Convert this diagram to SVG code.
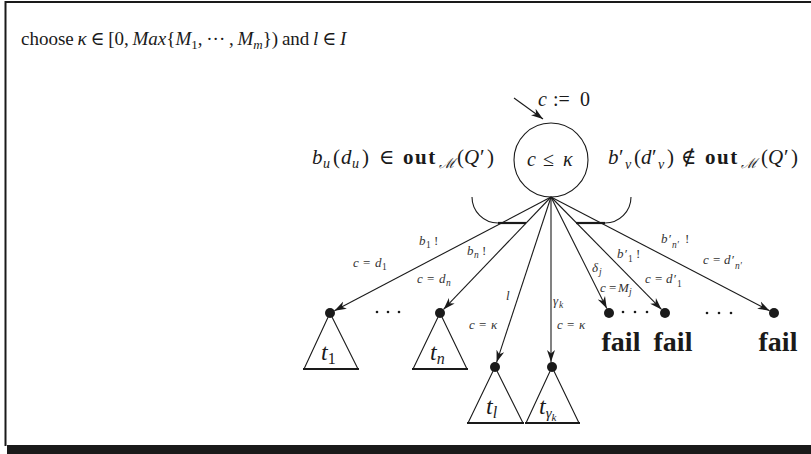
<svg xmlns="http://www.w3.org/2000/svg" width="811" height="454" viewBox="0 0 811 454">
<style>
text{font-family:"Liberation Serif","DejaVu Serif",serif;fill:#1a1a1a}
.i{font-style:italic}
.b{font-weight:bold}
.title{font-size:19px;word-spacing:-1px}
.side{font-size:21px}
.sub{font-size:14px;font-style:italic}
.el{font-size:13px;font-style:italic;fill:#333}
.es{font-size:9.5px}
.tri{font-size:24px;font-style:italic}
.fail{font-size:28px;font-weight:bold}
.edge{stroke:#1a1a1a;stroke-width:1.1;fill:none}
.tr{stroke:#1a1a1a;stroke-width:1.1;fill:none}
.base{stroke:#1a1a1a;stroke-width:2.2}
.dot{fill:#1a1a1a}
</style>
<defs>
<marker id="ah" markerUnits="userSpaceOnUse" markerWidth="13" markerHeight="9" refX="12" refY="4.5" orient="auto">
<path d="M0,0.5 L12,4.5 L0,8.5 L3.5,4.5 z" fill="#1a1a1a"/>
</marker>
</defs>
<g id="frame">
<line x1="5" y1="2" x2="811" y2="2" stroke="#1a1a1a" stroke-width="2"/>
<line x1="5.5" y1="1" x2="5.5" y2="446" stroke="#1a1a1a" stroke-width="2"/>
<rect x="7" y="445" width="804" height="9" fill="#1a1a1a"/>
</g>
<g id="title">
<text x="21" y="45" class="title">choose <tspan class="i">κ</tspan> ∈ [0, <tspan class="i">Max</tspan>{<tspan class="i">M</tspan><tspan dy="4" font-size="13">1</tspan><tspan dy="-4">, ··· , </tspan><tspan class="i">M</tspan><tspan dy="4" font-size="13" class="i">m</tspan><tspan dy="-4">}) and </tspan><tspan class="i">l</tspan> ∈ <tspan class="i">I</tspan></text>
</g>
<g id="init">
<line x1="514" y1="98" x2="543" y2="119" class="edge" stroke-width="1.6" marker-end="url(#ah)"/>
<text y="106" font-size="20"><tspan x="538" class="i">c</tspan><tspan x="553">:=</tspan><tspan x="580">0</tspan></text>
</g>
<g id="state">
<circle cx="551" cy="160" r="37" class="tr"/>
<text y="166" font-size="20"><tspan x="527" class="i">c</tspan><tspan x="543">≤</tspan><tspan x="563" class="i">κ</tspan></text>
</g>
<g id="label-left">
<text y="164" class="side"><tspan x="312" class="i">b</tspan><tspan x="323" dy="4" class="sub">u</tspan><tspan x="333" dy="-4">(</tspan><tspan x="341" class="i">d</tspan><tspan x="352" dy="4" class="sub">u</tspan><tspan x="362" dy="-4">)</tspan><tspan x="379">∈</tspan><tspan x="403" class="b" letter-spacing="1.5">out</tspan><tspan x="439" dy="4" class="sub">ℳ</tspan><tspan x="457" dy="-4">(</tspan><tspan x="464" class="i">Q</tspan><tspan x="480">′</tspan><tspan x="487">)</tspan></text>
<path d="M472,197 A26,26 0 0 0 498,223" class="tr"/>
<line x1="498" y1="223" x2="526" y2="223" class="base"/>
</g>
<g id="label-right">
<text y="164" class="side"><tspan x="608" class="i">b</tspan><tspan x="619">′</tspan><tspan x="625" dy="5" class="sub">v</tspan><tspan x="634" dy="-5">(</tspan><tspan x="641" class="i">d</tspan><tspan x="652">′</tspan><tspan x="658" dy="5" class="sub">v</tspan><tspan x="667" dy="-5">)</tspan><tspan x="681">∉</tspan><tspan x="705" class="b" letter-spacing="1.5">out</tspan><tspan x="741" dy="4" class="sub">ℳ</tspan><tspan x="761" dy="-4">(</tspan><tspan x="768" class="i">Q</tspan><tspan x="784">′</tspan><tspan x="791">)</tspan></text>
<path d="M631,197 A26,26 0 0 1 605,223" class="tr"/>
<line x1="576" y1="223" x2="605" y2="223" class="base"/>
</g>
<g id="connectors">
<line x1="551" y1="197" x2="334.4" y2="310.7" class="edge" marker-end="url(#ah)"/>
<line x1="551" y1="197" x2="443.5" y2="309.4" class="edge" marker-end="url(#ah)"/>
<line x1="551" y1="197" x2="496.6" y2="362.3" class="edge" marker-end="url(#ah)"/>
<line x1="551" y1="197" x2="551" y2="362" class="edge" stroke-width="1.8" marker-end="url(#ah)"/>
<line x1="551" y1="197" x2="606.8" y2="308.5" class="edge" marker-end="url(#ah)"/>
<line x1="551" y1="197" x2="661.5" y2="309.4" class="edge" marker-end="url(#ah)"/>
<line x1="551" y1="197" x2="769.6" y2="310.7" class="edge" marker-end="url(#ah)"/>
<text y="245" class="el"><tspan x="419">b</tspan><tspan x="426" dy="3" class="es" font-style="normal">1</tspan><tspan x="434" dy="-3" font-style="normal">!</tspan></text>
<text y="267" class="el"><tspan x="353">c</tspan><tspan x="363" font-style="normal">=</tspan><tspan x="375">d</tspan><tspan x="382" dy="3" class="es" font-style="normal">1</tspan></text>
<text y="255" class="el"><tspan x="467">b</tspan><tspan x="474" dy="3" class="es">n</tspan><tspan x="482" dy="-3" font-style="normal">!</tspan></text>
<text y="283" class="el"><tspan x="417">c</tspan><tspan x="427" font-style="normal">=</tspan><tspan x="439">d</tspan><tspan x="446" dy="3" class="es">n</tspan></text>
<text x="506" y="300" class="el">l</text>
<text y="329" class="el"><tspan x="469">c</tspan><tspan x="479" font-style="normal">=</tspan><tspan x="491">κ</tspan></text>
<text y="305" class="el"><tspan x="553">γ</tspan><tspan x="559" dy="3" class="es">k</tspan></text>
<text y="329" class="el"><tspan x="557">c</tspan><tspan x="567" font-style="normal">=</tspan><tspan x="579">κ</tspan></text>
<text y="272" class="el"><tspan x="592">δ</tspan><tspan x="599" dy="3" class="es">j</tspan></text>
<text y="292" class="el"><tspan x="600">c</tspan><tspan x="609" font-style="normal">=</tspan><tspan x="618">M</tspan><tspan x="629" dy="3" class="es">j</tspan></text>
<text y="258" class="el"><tspan x="617">b</tspan><tspan x="624">′</tspan><tspan x="628" dy="4" class="es" font-style="normal">1</tspan><tspan x="636" dy="-4" font-style="normal">!</tspan></text>
<text y="283" class="el"><tspan x="645">c</tspan><tspan x="655" font-style="normal">=</tspan><tspan x="666">d</tspan><tspan x="673">′</tspan><tspan x="677" dy="4" class="es" font-style="normal">1</tspan></text>
<text y="243" class="el"><tspan x="661">b</tspan><tspan x="668">′</tspan><tspan x="672" dy="5" class="es">n′</tspan><tspan x="685" dy="-5" font-style="normal">!</tspan></text>
<text y="264" class="el"><tspan x="703">c</tspan><tspan x="713" font-style="normal">=</tspan><tspan x="724">d</tspan><tspan x="731">′</tspan><tspan x="735" dy="5" class="es">n′</tspan></text>
</g>
<g id="t1">
<path d="M330,313 L304,369 M330,313 L358,369" class="tr"/>
<line x1="303" y1="369" x2="359" y2="369" class="base"/>
<circle cx="330" cy="313" r="5" class="dot"/>
<text x="321" y="360" class="tri">t<tspan dy="4" font-size="16" font-style="normal">1</tspan></text>
</g>
<g id="dots1">
<circle cx="377" cy="312" r="1.3" class="dot"/><circle cx="388" cy="312" r="1.3" class="dot"/><circle cx="399" cy="312" r="1.3" class="dot"/>
</g>
<g id="tn">
<path d="M440,313 L413,369 M440,313 L467,369" class="tr"/>
<line x1="412" y1="369" x2="468" y2="369" class="base"/>
<circle cx="440" cy="313" r="5" class="dot"/>
<text x="430" y="360" class="tri">t<tspan dy="4" font-size="16">n</tspan></text>
</g>
<g id="tl">
<path d="M495,367 L468,423 M495,367 L523,423" class="tr"/>
<line x1="467" y1="423" x2="524" y2="423" class="base"/>
<circle cx="495" cy="367" r="5" class="dot"/>
<text x="486" y="414" class="tri">t<tspan dy="4" font-size="16">l</tspan></text>
</g>
<g id="tgk">
<path d="M552,367 L526,423 M552,367 L579,423" class="tr"/>
<line x1="525" y1="423" x2="580" y2="423" class="base"/>
<circle cx="552" cy="367" r="5" class="dot"/>
<text x="539" y="414" class="tri">t<tspan dy="4" font-size="15">γ</tspan><tspan dy="3" font-size="11">k</tspan></text>
</g>
<g id="fail1">
<circle cx="609" cy="313" r="5" class="dot"/>
<text x="621" y="351" class="fail" text-anchor="middle">fail</text>
</g>
<g id="dots2">
<circle cx="623" cy="312" r="1.3" class="dot"/><circle cx="635" cy="312" r="1.3" class="dot"/><circle cx="647" cy="312" r="1.3" class="dot"/>
</g>
<g id="fail2">
<circle cx="665" cy="313" r="5" class="dot"/>
<text x="673" y="351" class="fail" text-anchor="middle">fail</text>
</g>
<g id="dots3">
<circle cx="707" cy="313" r="1.3" class="dot"/><circle cx="719" cy="313" r="1.3" class="dot"/><circle cx="731" cy="313" r="1.3" class="dot"/>
</g>
<g id="fail3">
<circle cx="774" cy="313" r="5" class="dot"/>
<text x="778" y="351" class="fail" text-anchor="middle">fail</text>
</g>
</svg>
